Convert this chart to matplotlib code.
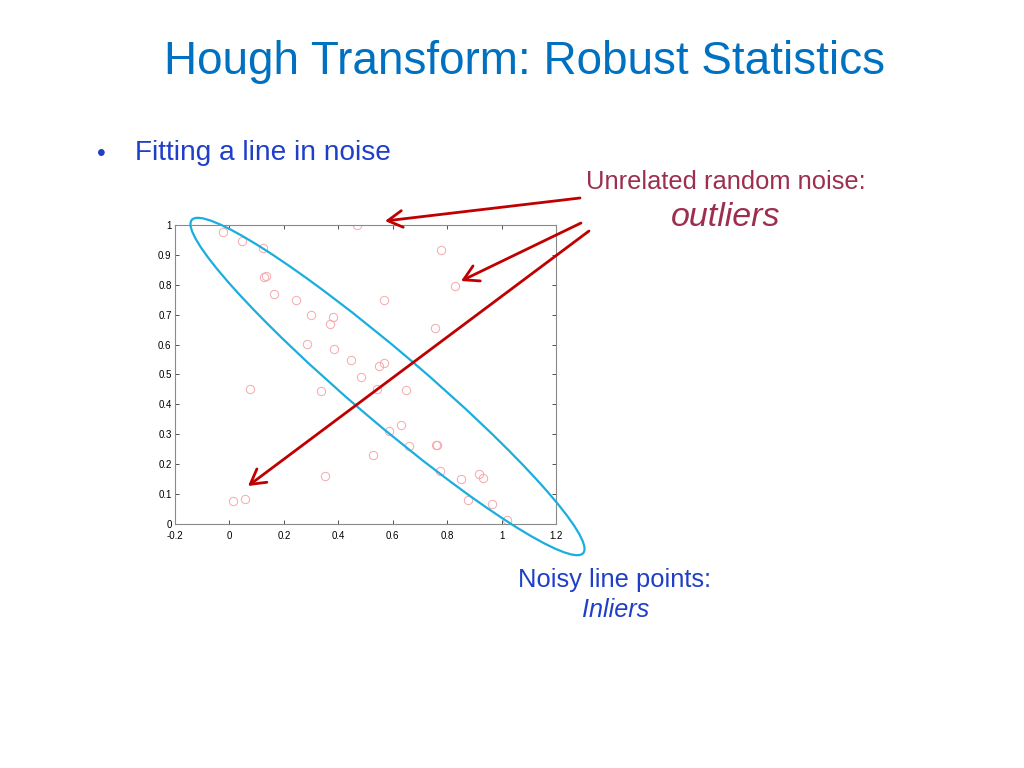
import matplotlib
matplotlib.use("Agg")
import matplotlib.pyplot as plt
from matplotlib.patches import Ellipse, FancyArrowPatch
import numpy as np

plt.rcParams['font.family'] = ['Liberation Sans', 'DejaVu Sans']

# Data: noisy points (inliers along line + outliers)
x_pts = [-0.023, 0.045, 0.122, 0.128, 0.133, 0.164, 0.246, 0.299, 0.380, 0.368,
         0.286, 0.383, 0.448, 0.470, 0.482, 0.778, 0.830, 0.567, 0.754, 0.549,
         0.568, 0.076, 0.338, 0.353, 0.012, 0.056, 0.647, 0.543, 0.631, 0.587,
         0.759, 0.764, 0.661, 0.529, 0.772, 0.850, 0.916, 0.933, 0.878, 0.965,
         1.019]
y_pts = [0.977, 0.946, 0.923, 0.826, 0.830, 0.768, 0.749, 0.699, 0.691, 0.668,
         0.602, 0.586, 0.547, 0.998, 0.493, 0.916, 0.795, 0.749, 0.656, 0.529,
         0.539, 0.453, 0.444, 0.161, 0.079, 0.083, 0.447, 0.451, 0.332, 0.312,
         0.264, 0.266, 0.260, 0.230, 0.178, 0.151, 0.167, 0.155, 0.081, 0.067,
         0.015]
x_ticks = [-0.2, 0, 0.2, 0.4, 0.6, 0.8, 1, 1.2]
x_tick_labels = ['-0.2', '0', '0.2', '0.4', '0.6', '0.8', '1', '1.2']
y_ticks = [0, 0.1, 0.2, 0.3, 0.4, 0.5, 0.6, 0.7, 0.8, 0.9, 1]
y_tick_labels = ['0', '0.1', '0.2', '0.3', '0.4', '0.5', '0.6', '0.7', '0.8', '0.9', '1']

fig = plt.figure(figsize=(10.24, 7.68), dpi=100)
fig.patch.set_facecolor('white')

ax = fig.add_axes([175/1024, 1 - 524.3/768, (556 - 175)/1024, (524.3 - 224.7)/768])
ax.plot(x_pts, y_pts, linestyle='none', marker='o', markersize=6.0,
        markerfacecolor='none', markeredgecolor='#f5a8ac', markeredgewidth=0.7)
ax.set_xlim(-0.2, 1.2)
ax.set_ylim(0, 1)
ax.set_xticks(x_ticks)
ax.set_xticklabels(x_tick_labels)
ax.set_yticks(y_ticks)
ax.set_yticklabels(y_tick_labels)
ax.tick_params(direction='in', length=3, width=0.6, top=True, right=True,
               labelsize=7, colors='#333333', labelcolor='black')
ax.tick_params(axis='x', pad=4.5)
ax.tick_params(axis='y', pad=2.5)
for s in ax.spines.values():
    s.set_color('#8a8a8a')
    s.set_linewidth(0.8)

# Overlay in pixel coordinates for annotations
ov = fig.add_axes([0, 0, 1, 1], zorder=5)
ov.set_xlim(0, 1024)
ov.set_ylim(768, 0)
ov.axis('off')
ov.patch.set_alpha(0)

ov.add_patch(Ellipse((387.5, 386.5), 514, 70, angle=40.4, fill=False,
                     edgecolor='#1aaede', linewidth=1.6))

arrow_color = '#c00000'
for (x0, y0, x1, y1) in [(580, 198, 385, 221), (581, 223, 461, 281), (589, 231, 248, 486)]:
    ov.add_patch(FancyArrowPatch((x0, y0), (x1, y1), arrowstyle='->,head_length=7,head_width=4',
                                 color=arrow_color, linewidth=2.0, mutation_scale=1.5,
                                 shrinkA=0, shrinkB=0))

ov.text(525, 62, 'Hough Transform: Robust Statistics', fontsize=33, color='#0070c0',
        ha='center', va='center')
ov.text(101, 154, '•', fontsize=18, color='#1f3fc8', ha='center', va='center')
ov.text(135, 153, 'Fitting a line in noise', fontsize=20.2, color='#1f3fc8',
        ha='left', va='center')
ov.text(726, 182, 'Unrelated random noise:', fontsize=18.4, color='#9c2f50',
        ha='center', va='center')
ov.text(726, 218, 'outliers', fontsize=24.5, color='#9c2f50', style='italic',
        ha='center', va='center')
ov.text(614, 580, 'Noisy line points:', fontsize=18.4, color='#1f3fc8',
        ha='center', va='center')
ov.text(616, 610, 'Inliers', fontsize=18.2, color='#1f3fc8', style='italic',
        ha='center', va='center')

fig.savefig('out.png', dpi=100, facecolor='white')
